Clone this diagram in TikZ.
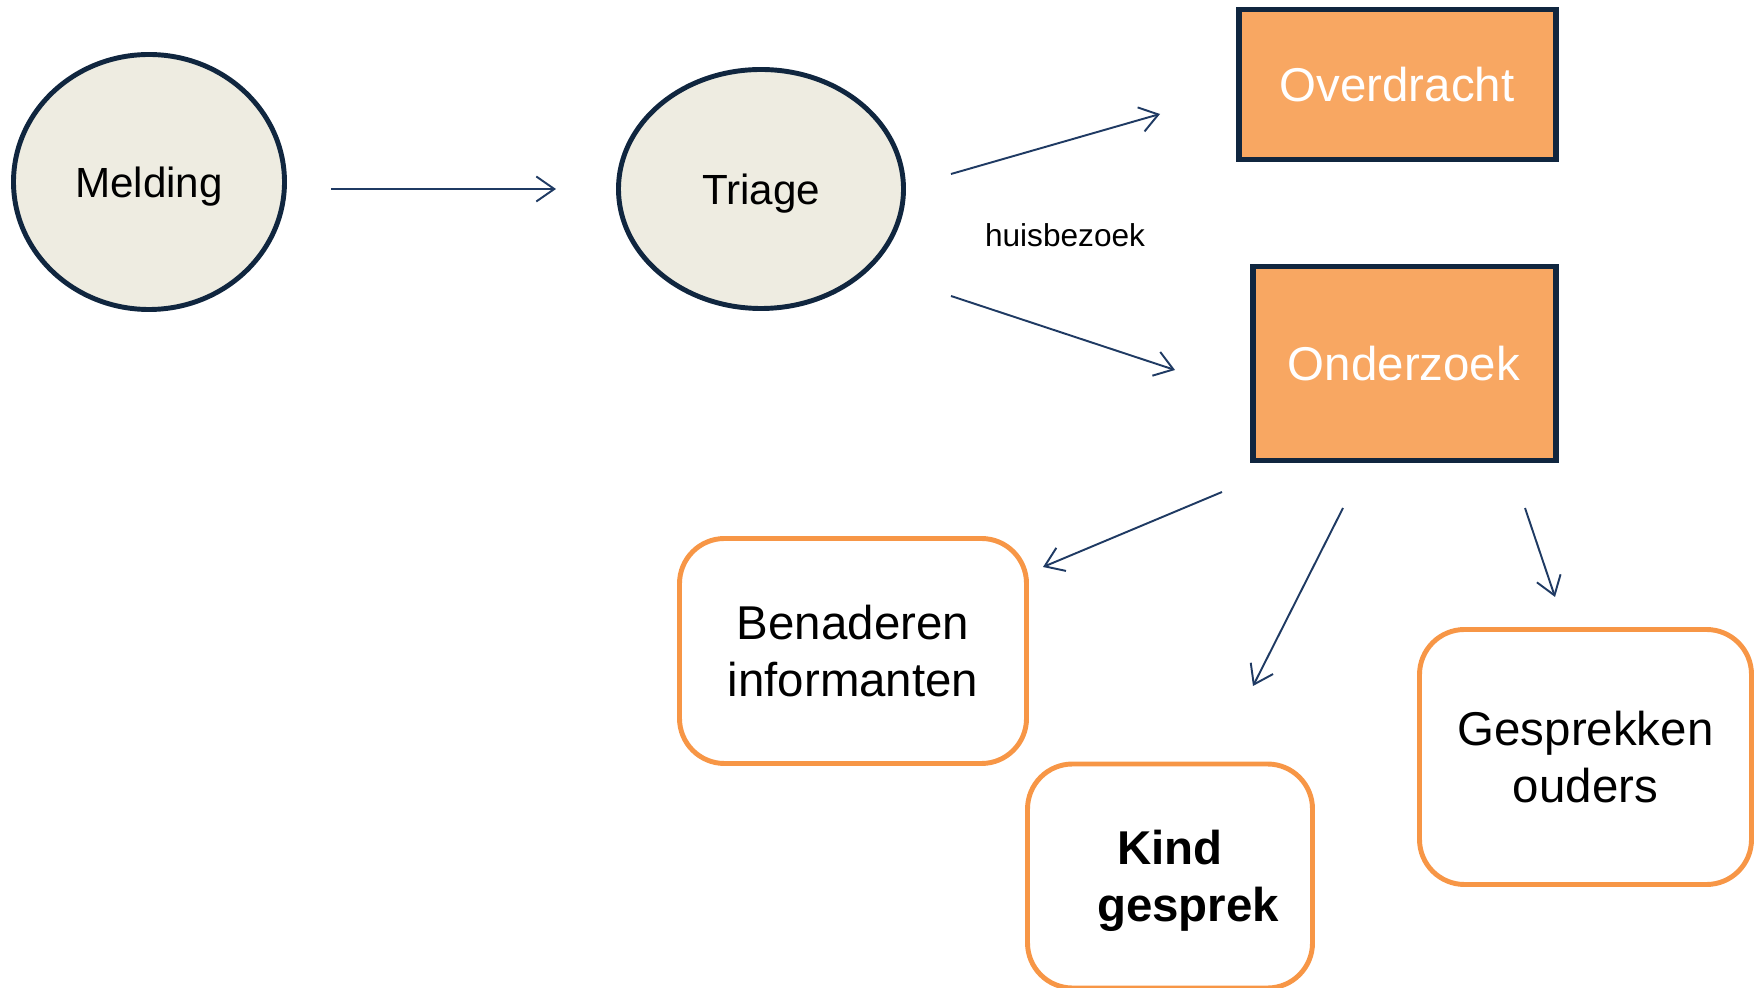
\documentclass[tikz,border=0pt]{standalone}
\usepackage{fontspec}
\setmainfont{Liberation Sans}
\usetikzlibrary{shapes.geometric,arrows.meta}

\definecolor{navy}{HTML}{10263F}
\definecolor{pijl}{HTML}{1F3A63}
\definecolor{beige}{HTML}{EEECE1}
\definecolor{oranje}{HTML}{F8A762}
\definecolor{oranjelijn}{HTML}{F79646}

\begin{document}
\begin{tikzpicture}[
		fase/.style={ellipse, draw=navy, line width=2.8pt, fill=beige, inner sep=0pt, text depth=0pt, font=\fontsize{24}{29}\selectfont},
		blok/.style={rectangle, draw=navy, line width=3.4pt, fill=oranje, text=white, inner sep=0pt, font=\fontsize{27}{32}\selectfont},
		actie/.style={rectangle, rounded corners=0.9cm, draw=oranjelijn, line width=2.8pt, fill=white, align=center, inner sep=0pt, font=\fontsize{27}{32.4}\selectfont},
		pijl/.style={draw=pijl, line width=1.1pt, -{Straight Barb[length=0.36cm, width=0.5cm, line width=1.1pt]}}
	]
		%\draw[thin, draw=gray!30, step=1] (0,0) grid (35.16,19.74);
		\useasboundingbox (0,0) rectangle (35.16,19.74);
		
		\node[fase, minimum width=5.42cm, minimum height=5.1cm] (melding) at (2.98,16.10) {Melding};
		\node[fase, minimum width=5.7cm, minimum height=4.78cm] (triage) at (15.22,15.96) {Triage};
		
		\node[blok, minimum width=6.34cm, minimum height=3.0cm] (overdracht) at (27.94,18.05) {Overdracht};
		\node[blok, minimum width=6.06cm, minimum height=3.88cm] (onderzoek) at (28.08,12.47) {Onderzoek};
		\node[font=\fontsize{18}{22}\selectfont] (huisbezoek) at (21.30,15.04) {huisbezoek};
		
		\node[actie, minimum width=6.94cm, minimum height=4.5cm] (benaderen) at (17.06,6.72) {Benaderen\\informanten};
		\node[actie, minimum width=5.7cm, minimum height=4.48cm, text depth=0pt, font=\fontsize{27}{32.4}\selectfont\bfseries] (kind) at (23.40,2.22) {Kind\\\hspace*{0.72cm}gesprek};
		\node[actie, minimum width=6.64cm, minimum height=5.1cm] (gesprekken) at (31.71,4.60) {Gesprekken\\ouders};
		
		% eindpunten pijlen
		\coordinate (m1) at (6.62,15.96);
		\coordinate (m2) at (11.12,15.96);
		\coordinate (t1) at (19.02,16.26);
		\coordinate (t2) at (23.20,17.46);
		\coordinate (t3) at (19.02,13.82);
		\coordinate (t4) at (23.50,12.34);
		\coordinate (o1) at (24.44,9.90);
		\coordinate (o2) at (20.86,8.40);
		\coordinate (o3) at (26.86,9.58);
		\coordinate (o4) at (25.06,6.02);
		\coordinate (o5) at (30.50,9.58);
		\coordinate (o6) at (31.10,7.80);
		
		\draw[pijl] (m1) -- (m2);
		\draw[pijl] (t1) -- (t2);
		\draw[pijl] (t3) -- (t4);
		\draw[pijl] (o1) -- (o2);
		\draw[pijl] (o3) -- (o4);
		\draw[pijl] (o5) -- (o6);
	\end{tikzpicture}
\end{document}
